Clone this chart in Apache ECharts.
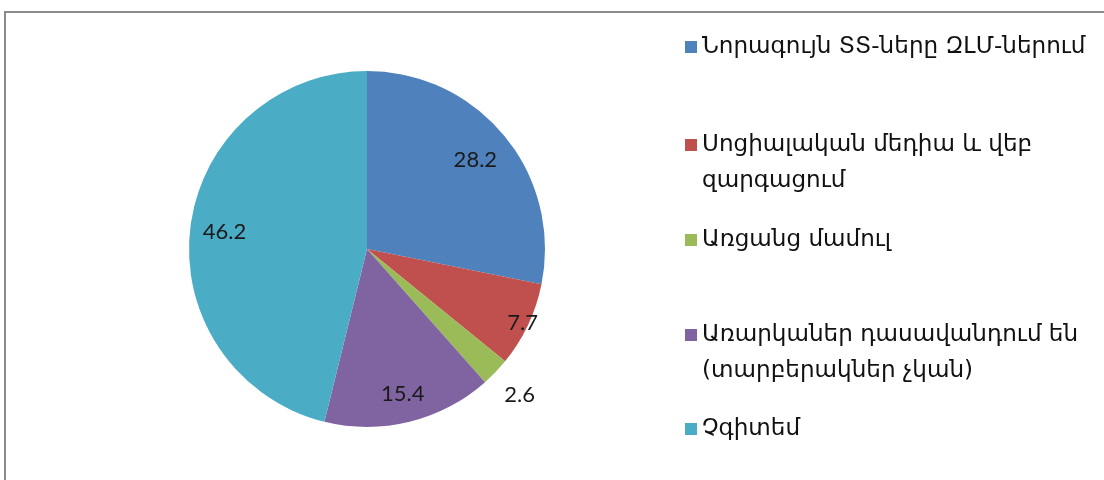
<!DOCTYPE html>
<html>
<head>
<meta charset="utf-8">
<script src="https://cdn.jsdelivr.net/npm/echarts@6/dist/echarts.min.js"></script>
<style>html,body{margin:0;padding:0;background:#fff;}#main{width:1104px;height:480px;}</style>
</head>
<body>
<div id="main"></div>
<script>
// ---- data ----
var categories = [
  'Նորագույն ՏՏ-ները ԶԼՄ-ներում',
  'Սոցիալական մեդիա և վեբ զարգացում',
  'Առցանց մամուլ',
  'Առարկաներ դասավանդում են (տարբերակներ չկան)',
  'Չգիտեմ'
];
var values = [28.2, 7.7, 2.6, 15.4, 46.2];

// ---- style ----
var colors = ['#4F81BD', '#C0504D', '#9BBB59', '#8064A2', '#4BACC6'];
var center = [367, 249];
var R = 178;
var labelFrac = [0.77, 0.95, 1.17, 0.82, 0.79]; // label distance from centre, fraction of radius
var legendFirstLineY = [42, 140, 235, 330, 424];
var LH = 36;
var legendFont = '"DejaVu Sans", sans-serif';

// fit legend font so the first entry spans about 385px, as in the reference
var cv = document.createElement('canvas').getContext('2d');
cv.font = '20px ' + legendFont;
var w20 = cv.measureText(categories[0]).width;
var legendFontSize = Math.floor(20 * 385 / w20 * 10) / 10;
cv.font = legendFontSize + 'px ' + legendFont;
var wrapWidth = Math.ceil(cv.measureText(categories[0]).width) + 6;

function wrapLines(text) {
  var words = text.split(' '), lines = [], cur = '';
  words.forEach(function (w) {
    var t = cur ? cur + ' ' + w : w;
    if (cur && cv.measureText(t).width > wrapWidth) { lines.push(cur); cur = w; }
    else cur = t;
  });
  if (cur) lines.push(cur);
  return lines;
}
var wrapped = categories.map(wrapLines);

var series = [{
  type: 'pie',
  center: center,
  radius: R,
  startAngle: 90,
  clockwise: true,
  silent: true,
  label: { show: false },
  labelLine: { show: false },
  emphasis: { disabled: true },
  data: categories.map(function (c, i) {
    return { name: c, value: values[i], itemStyle: { color: colors[i] } };
  })
}];

categories.forEach(function (c, k) {
  series.push({
    type: 'pie',
    center: center,
    radius: Math.round(2 * labelFrac[k] * R),
    startAngle: 90,
    clockwise: true,
    silent: true,
    emphasis: { disabled: true },
    itemStyle: { color: 'rgba(0,0,0,0)', borderWidth: 0 },
    labelLine: { show: false },
    data: categories.map(function (cc, i) {
      return {
        name: cc, value: values[i],
        label: {
          show: i === k,
          position: 'inside',
          formatter: function (p) { return p.value.toFixed(1); },
          fontFamily: 'Lato, sans-serif',
          fontSize: 22,
          color: '#1a1a1a'
        }
      };
    })
  });
});

var legends = categories.map(function (c, i) {
  var lines = wrapped[i];
  var n = lines.length;
  // pad with leading blank lines so the icon (centred on the text block) sits on the first line
  var text = new Array(n).join('\n') + lines.join('\n');
  return {
    orient: 'vertical',
    left: 680,
    top: legendFirstLineY[i] - (n - 0.5) * LH,
    icon: 'rect',
    itemWidth: 12,
    itemHeight: 12,
    itemGap: 0,
    selectedMode: false,
    formatter: function () { return text; },
    data: [{
      name: c,
      itemStyle: { color: colors[i] },
      textStyle: {
        fontFamily: legendFont,
        fontSize: legendFontSize,
        color: '#111',
        lineHeight: LH
      }
    }]
  };
});

var chart = echarts.init(document.getElementById('main'));
chart.setOption({
  animation: false,
  backgroundColor: '#fff',
  graphic: [{
    type: 'rect',
    shape: { x: 5, y: 12, width: 1200, height: 600 },
    style: { fill: 'none', stroke: '#8a8a8a', lineWidth: 2 },
    silent: true
  }],
  legend: legends,
  series: series
});
</script>
</body>
</html>
